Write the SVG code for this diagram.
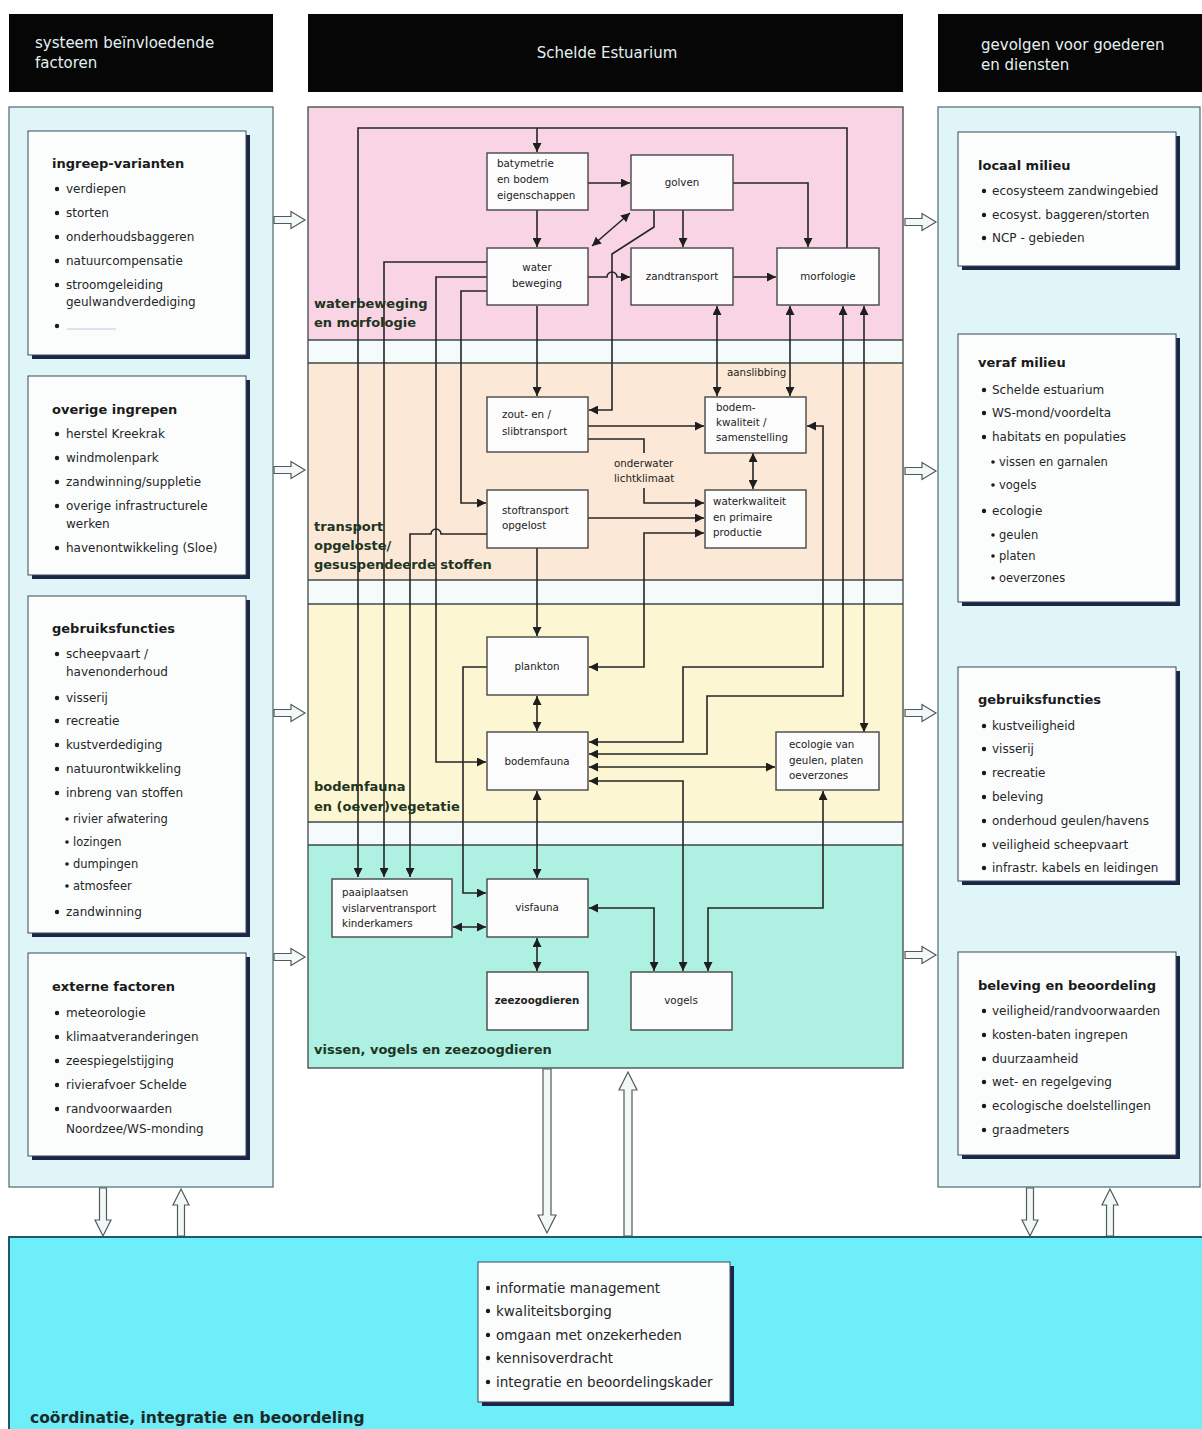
<svg xmlns="http://www.w3.org/2000/svg" width="1202" height="1429" viewBox="0 0 1202 1429">
  <defs>
    <style>
      text { font-family: "DejaVu Sans", "Liberation Sans", sans-serif; }
      .hdr { fill: #060606; }
      .hdrt { fill: #e4f0f0; font-size: 15px; }
      .side { fill: #dff5f7; stroke: #5a7478; stroke-width: 1.3; }
      .shadow { fill: #1b2547; }
      .card { fill: #fbfdfd; stroke: #3a4858; stroke-width: 1; }
      .ttl { font-size: 13px; font-weight: bold; fill: #1a1a1a; }
      .itm { font-size: 12px; fill: #262626; }
      .sub { font-size: 11.5px; fill: #262626; }
      .big { font-size: 13.5px; fill: #262626; }
      .dot { fill: #1a1a1a; }
      .sline { stroke: #3c4848; stroke-width: 1.3; fill: none; }
      .node { fill: #fcfcfc; stroke: #474747; stroke-width: 1.4; }
      .nt { font-size: 10.3px; fill: #222; }
      .ntc { font-size: 10.3px; fill: #222; text-anchor: middle; }
      .sec { font-size: 13px; font-weight: bold; fill: #1d3522; }
      .conn { stroke: #262626; stroke-width: 1.6; fill: none; }
      .hollow { fill: #f2f8f8; stroke: #505a5a; stroke-width: 1.2; }
    </style>
    <marker id="ah" viewBox="0 0 10 10" refX="10" refY="5" markerWidth="9" markerHeight="9" markerUnits="userSpaceOnUse" orient="auto-start-reverse">
      <path d="M0,0 L10,5 L0,10 z" fill="#1e1e1e"/>
    </marker>
    <path id="hollowR" d="M0,-3.5 H17 V-8.5 L31,0 L17,8.5 V3.5 H0 Z"/>
  </defs>

  <rect width="1202" height="1429" fill="#ffffff"/>

  <!-- column headers -->
  <g id="header-left">
    <rect class="hdr" x="9" y="14" width="264" height="78"/>
    <text class="hdrt" x="35" y="48">systeem beïnvloedende</text>
    <text class="hdrt" x="35" y="68">factoren</text>
  </g>
  <g id="header-middle">
    <rect class="hdr" x="308" y="14" width="595" height="78"/>
    <text class="hdrt" x="607" y="58" text-anchor="middle">Schelde Estuarium</text>
  </g>
  <g id="header-right">
    <rect class="hdr" x="938" y="14" width="264" height="78"/>
    <text class="hdrt" x="981" y="50">gevolgen voor goederen</text>
    <text class="hdrt" x="981" y="70">en diensten</text>
  </g>

  <!-- side panels -->
  <rect id="panel-left" class="side" x="9" y="107" width="264" height="1080"/>
  <rect id="panel-right" class="side" x="938" y="107" width="262" height="1080"/>

  <!-- left column cards -->
  <g id="ingreep-varianten">
    <rect class="shadow" x="32" y="135" width="218" height="224"/>
    <rect class="card" x="28" y="131" width="218" height="224"/>
    <text class="ttl" x="52" y="168">ingreep-varianten</text>
    <circle class="dot" cx="57" cy="189" r="2.2"/><text class="itm" x="66" y="193">verdiepen</text>
    <circle class="dot" cx="57" cy="213" r="2.2"/><text class="itm" x="66" y="217">storten</text>
    <circle class="dot" cx="57" cy="237" r="2.2"/><text class="itm" x="66" y="241">onderhoudsbaggeren</text>
    <circle class="dot" cx="57" cy="261" r="2.2"/><text class="itm" x="66" y="265">natuurcompensatie</text>
    <circle class="dot" cx="57" cy="285" r="2.2"/><text class="itm" x="66" y="289">stroomgeleiding</text>
    <text class="itm" x="66" y="306">geulwandverdediging</text>
    <circle class="dot" cx="57" cy="326" r="2.2"/>
    <line x1="67" y1="329" x2="116" y2="329" stroke="#b8cbe0" stroke-width="1.2"/>
  </g>
  <g id="overige-ingrepen">
    <rect class="shadow" x="32" y="380" width="218" height="199"/>
    <rect class="card" x="28" y="376" width="218" height="199"/>
    <text class="ttl" x="52" y="414">overige ingrepen</text>
    <circle class="dot" cx="57" cy="434" r="2.2"/><text class="itm" x="66" y="438">herstel Kreekrak</text>
    <circle class="dot" cx="57" cy="458" r="2.2"/><text class="itm" x="66" y="462">windmolenpark</text>
    <circle class="dot" cx="57" cy="482" r="2.2"/><text class="itm" x="66" y="486">zandwinning/suppletie</text>
    <circle class="dot" cx="57" cy="506" r="2.2"/><text class="itm" x="66" y="510">overige infrastructurele</text>
    <text class="itm" x="66" y="528">werken</text>
    <circle class="dot" cx="57" cy="548" r="2.2"/><text class="itm" x="66" y="552">havenontwikkeling (Sloe)</text>
  </g>
  <g id="gebruiksfuncties-links">
    <rect class="shadow" x="32" y="600" width="218" height="337"/>
    <rect class="card" x="28" y="596" width="218" height="337"/>
    <text class="ttl" x="52" y="633">gebruiksfuncties</text>
    <circle class="dot" cx="57" cy="654" r="2.2"/><text class="itm" x="66" y="658">scheepvaart /</text>
    <text class="itm" x="66" y="676">havenonderhoud</text>
    <circle class="dot" cx="57" cy="698" r="2.2"/><text class="itm" x="66" y="702">visserij</text>
    <circle class="dot" cx="57" cy="721" r="2.2"/><text class="itm" x="66" y="725">recreatie</text>
    <circle class="dot" cx="57" cy="745" r="2.2"/><text class="itm" x="66" y="749">kustverdediging</text>
    <circle class="dot" cx="57" cy="769" r="2.2"/><text class="itm" x="66" y="773">natuurontwikkeling</text>
    <circle class="dot" cx="57" cy="793" r="2.2"/><text class="itm" x="66" y="797">inbreng van stoffen</text>
    <circle class="dot" cx="67" cy="819" r="1.8"/><text class="sub" x="73" y="823">rivier afwatering</text>
    <circle class="dot" cx="67" cy="842" r="1.8"/><text class="sub" x="73" y="846">lozingen</text>
    <circle class="dot" cx="67" cy="864" r="1.8"/><text class="sub" x="73" y="868">dumpingen</text>
    <circle class="dot" cx="67" cy="886" r="1.8"/><text class="sub" x="73" y="890">atmosfeer</text>
    <circle class="dot" cx="57" cy="912" r="2.2"/><text class="itm" x="66" y="916">zandwinning</text>
  </g>
  <g id="externe-factoren">
    <rect class="shadow" x="32" y="957" width="218" height="203"/>
    <rect class="card" x="28" y="953" width="218" height="203"/>
    <text class="ttl" x="52" y="991">externe factoren</text>
    <circle class="dot" cx="57" cy="1013" r="2.2"/><text class="itm" x="66" y="1017">meteorologie</text>
    <circle class="dot" cx="57" cy="1037" r="2.2"/><text class="itm" x="66" y="1041">klimaatveranderingen</text>
    <circle class="dot" cx="57" cy="1061" r="2.2"/><text class="itm" x="66" y="1065">zeespiegelstijging</text>
    <circle class="dot" cx="57" cy="1085" r="2.2"/><text class="itm" x="66" y="1089">rivierafvoer Schelde</text>
    <circle class="dot" cx="57" cy="1109" r="2.2"/><text class="itm" x="66" y="1113">randvoorwaarden</text>
    <text class="itm" x="66" y="1133">Noordzee/WS-monding</text>
  </g>

  <!-- right column cards -->
  <g id="locaal-milieu">
    <rect class="shadow" x="962" y="136" width="218" height="134"/>
    <rect class="card" x="958" y="132" width="218" height="134"/>
    <text class="ttl" x="978" y="170">locaal milieu</text>
    <circle class="dot" cx="984" cy="191" r="2.2"/><text class="itm" x="992" y="195">ecosysteem zandwingebied</text>
    <circle class="dot" cx="984" cy="215" r="2.2"/><text class="itm" x="992" y="219">ecosyst. baggeren/storten</text>
    <circle class="dot" cx="984" cy="238" r="2.2"/><text class="itm" x="992" y="242">NCP - gebieden</text>
  </g>
  <g id="veraf-milieu">
    <rect class="shadow" x="962" y="338" width="218" height="268"/>
    <rect class="card" x="958" y="334" width="218" height="268"/>
    <text class="ttl" x="978" y="367">veraf milieu</text>
    <circle class="dot" cx="984" cy="390" r="2.2"/><text class="itm" x="992" y="394">Schelde estuarium</text>
    <circle class="dot" cx="984" cy="413" r="2.2"/><text class="itm" x="992" y="417">WS-mond/voordelta</text>
    <circle class="dot" cx="984" cy="437" r="2.2"/><text class="itm" x="992" y="441">habitats en populaties</text>
    <circle class="dot" cx="993" cy="462" r="1.8"/><text class="sub" x="999" y="466">vissen en garnalen</text>
    <circle class="dot" cx="993" cy="485" r="1.8"/><text class="sub" x="999" y="489">vogels</text>
    <circle class="dot" cx="984" cy="511" r="2.2"/><text class="itm" x="992" y="515">ecologie</text>
    <circle class="dot" cx="993" cy="535" r="1.8"/><text class="sub" x="999" y="539">geulen</text>
    <circle class="dot" cx="993" cy="556" r="1.8"/><text class="sub" x="999" y="560">platen</text>
    <circle class="dot" cx="993" cy="578" r="1.8"/><text class="sub" x="999" y="582">oeverzones</text>
  </g>
  <g id="gebruiksfuncties-rechts">
    <rect class="shadow" x="962" y="671" width="218" height="214"/>
    <rect class="card" x="958" y="667" width="218" height="214"/>
    <text class="ttl" x="978" y="704">gebruiksfuncties</text>
    <circle class="dot" cx="984" cy="726" r="2.2"/><text class="itm" x="992" y="730">kustveiligheid</text>
    <circle class="dot" cx="984" cy="749" r="2.2"/><text class="itm" x="992" y="753">visserij</text>
    <circle class="dot" cx="984" cy="773" r="2.2"/><text class="itm" x="992" y="777">recreatie</text>
    <circle class="dot" cx="984" cy="797" r="2.2"/><text class="itm" x="992" y="801">beleving</text>
    <circle class="dot" cx="984" cy="821" r="2.2"/><text class="itm" x="992" y="825">onderhoud geulen/havens</text>
    <circle class="dot" cx="984" cy="845" r="2.2"/><text class="itm" x="992" y="849">veiligheid scheepvaart</text>
    <circle class="dot" cx="984" cy="868" r="2.2"/><text class="itm" x="992" y="872">infrastr. kabels en leidingen</text>
  </g>
  <g id="beleving-en-beoordeling">
    <rect class="shadow" x="962" y="956" width="218" height="203"/>
    <rect class="card" x="958" y="952" width="218" height="203"/>
    <text class="ttl" x="978" y="990">beleving en beoordeling</text>
    <circle class="dot" cx="984" cy="1011" r="2.2"/><text class="itm" x="992" y="1015">veiligheid/randvoorwaarden</text>
    <circle class="dot" cx="984" cy="1035" r="2.2"/><text class="itm" x="992" y="1039">kosten-baten ingrepen</text>
    <circle class="dot" cx="984" cy="1059" r="2.2"/><text class="itm" x="992" y="1063">duurzaamheid</text>
    <circle class="dot" cx="984" cy="1082" r="2.2"/><text class="itm" x="992" y="1086">wet- en regelgeving</text>
    <circle class="dot" cx="984" cy="1106" r="2.2"/><text class="itm" x="992" y="1110">ecologische doelstellingen</text>
    <circle class="dot" cx="984" cy="1130" r="2.2"/><text class="itm" x="992" y="1134">graadmeters</text>
  </g>

  <!-- middle panel: four coloured layers separated by narrow bands -->
  <g id="estuarium-panel">
    <rect x="308" y="107" width="595" height="961" fill="#f5fafa"/>
    <rect x="308" y="107" width="595" height="233" fill="#f8d4e4"/>
    <rect x="308" y="363" width="595" height="217" fill="#fbe8d7"/>
    <rect x="308" y="604" width="595" height="218" fill="#fdf6d2"/>
    <rect x="308" y="845" width="595" height="223" fill="#aef0e2"/>
    <rect x="308" y="107" width="595" height="961" fill="none" stroke="#3c4848" stroke-width="1.3"/>
    <line class="sline" x1="308" y1="340" x2="903" y2="340"/>
    <line class="sline" x1="308" y1="363" x2="903" y2="363"/>
    <line class="sline" x1="308" y1="580" x2="903" y2="580"/>
    <line class="sline" x1="308" y1="604" x2="903" y2="604"/>
    <line class="sline" x1="308" y1="822" x2="903" y2="822"/>
    <line class="sline" x1="308" y1="845" x2="903" y2="845"/>
  </g>

  <!-- connectors between the estuary nodes -->
  <g id="connectors">
    <path class="conn" d="M847,248 V128 H358 V877" marker-end="url(#ah)"/>
    <path class="conn" d="M537,128 V152" marker-end="url(#ah)"/>
    <path class="conn" d="M588,183 H630" marker-end="url(#ah)"/>
    <path class="conn" d="M733,183 H808 V247" marker-end="url(#ah)"/>
    <path class="conn" d="M537,210 V247" marker-end="url(#ah)"/>
    <path class="conn" d="M592,246 L630,213" marker-start="url(#ah)" marker-end="url(#ah)"/>
    <path class="conn" d="M654,210 V227 L612,254 V410 H589" marker-end="url(#ah)"/>
    <path class="conn" d="M683,210 V247" marker-end="url(#ah)"/>
    <path class="conn" d="M588,277 H607 A5,5 0 0 1 617,277 H630" marker-end="url(#ah)"/>
    <path class="conn" d="M733,277 H776" marker-end="url(#ah)"/>
    <path class="conn" d="M487,262 H384 V877" marker-end="url(#ah)"/>
    <path class="conn" d="M487,277 H436 V762 H486" marker-end="url(#ah)"/>
    <path class="conn" d="M487,291 H461 V503 H486" marker-end="url(#ah)"/>
    <path class="conn" d="M537,306 V396" marker-end="url(#ah)"/>
    <path class="conn" d="M717,306 V396" marker-start="url(#ah)" marker-end="url(#ah)"/>
    <path class="conn" d="M790,306 V396" marker-start="url(#ah)" marker-end="url(#ah)"/>
    <path class="conn" d="M843,306 V696 H707 V754 H589" marker-start="url(#ah)" marker-end="url(#ah)"/>
    <path class="conn" d="M864,306 V732" marker-start="url(#ah)" marker-end="url(#ah)"/>
    <path class="conn" d="M588,426 H704" marker-end="url(#ah)"/>
    <path class="conn" d="M588,439 H644 V453"/>
    <path class="conn" d="M644,488 V503 H704" marker-end="url(#ah)"/>
    <path class="conn" d="M753,453 V489" marker-start="url(#ah)" marker-end="url(#ah)"/>
    <path class="conn" d="M589,742 H683 V667 H823 V426 H807" marker-start="url(#ah)" marker-end="url(#ah)"/>
    <path class="conn" d="M588,518 H704" marker-end="url(#ah)"/>
    <path class="conn" d="M589,667 H644 V533 H704" marker-start="url(#ah)" marker-end="url(#ah)"/>
    <path class="conn" d="M487,534 H441 A5,5 0 0 0 431,534 H410 V877" marker-end="url(#ah)"/>
    <path class="conn" d="M537,548 V636" marker-end="url(#ah)"/>
    <path class="conn" d="M487,667 H463 V893 H486" marker-end="url(#ah)"/>
    <path class="conn" d="M537,696 V731" marker-start="url(#ah)" marker-end="url(#ah)"/>
    <path class="conn" d="M589,767 H775" marker-start="url(#ah)" marker-end="url(#ah)"/>
    <path class="conn" d="M589,781 H683 V971" marker-start="url(#ah)" marker-end="url(#ah)"/>
    <path class="conn" d="M537,791 V878" marker-start="url(#ah)" marker-end="url(#ah)"/>
    <path class="conn" d="M453,927 H486" marker-start="url(#ah)" marker-end="url(#ah)"/>
    <path class="conn" d="M589,908 H654 V971" marker-start="url(#ah)" marker-end="url(#ah)"/>
    <path class="conn" d="M823,791 V908 H708 V971" marker-start="url(#ah)" marker-end="url(#ah)"/>
    <path class="conn" d="M537,938 V971" marker-start="url(#ah)" marker-end="url(#ah)"/>
    <text class="nt" x="727" y="376">aanslibbing</text>
    <text class="nt" x="614" y="467">onderwater</text>
    <text class="nt" x="614" y="482">lichtklimaat</text>
  </g>

  <!-- layer titles -->
  <g id="layer-titles">
    <text class="sec" x="314" y="308">waterbeweging</text>
    <text class="sec" x="314" y="327">en morfologie</text>
    <text class="sec" x="314" y="531">transport</text>
    <text class="sec" x="314" y="550">opgeloste/</text>
    <text class="sec" x="314" y="569">gesuspendeerde stoffen</text>
    <text class="sec" x="314" y="791">bodemfauna</text>
    <text class="sec" x="314" y="811">en (oever)vegetatie</text>
    <text class="sec" x="314" y="1054">vissen, vogels en zeezoogdieren</text>
  </g>

  <!-- estuary nodes -->
  <g id="batymetrie">
    <rect class="node" x="487" y="153" width="101" height="57"/>
    <text class="nt" x="497" y="167">batymetrie</text>
    <text class="nt" x="497" y="183">en bodem</text>
    <text class="nt" x="497" y="199">eigenschappen</text>
  </g>
  <g id="golven">
    <rect class="node" x="631" y="155" width="102" height="55"/>
    <text class="ntc" x="682" y="186">golven</text>
  </g>
  <g id="waterbeweging">
    <rect class="node" x="487" y="248" width="101" height="57"/>
    <text class="ntc" x="537" y="271">water</text>
    <text class="ntc" x="537" y="287">beweging</text>
  </g>
  <g id="zandtransport">
    <rect class="node" x="631" y="248" width="102" height="57"/>
    <text class="ntc" x="682" y="280">zandtransport</text>
  </g>
  <g id="morfologie">
    <rect class="node" x="777" y="248" width="102" height="57"/>
    <text class="ntc" x="828" y="280">morfologie</text>
  </g>
  <g id="slibtransport">
    <rect class="node" x="487" y="397" width="101" height="55"/>
    <text class="nt" x="502" y="418">zout- en /</text>
    <text class="nt" x="502" y="435">slibtransport</text>
  </g>
  <g id="bodemkwaliteit">
    <rect class="node" x="705" y="397" width="101" height="56"/>
    <text class="nt" x="716" y="411">bodem-</text>
    <text class="nt" x="716" y="426">kwaliteit /</text>
    <text class="nt" x="716" y="441">samenstelling</text>
  </g>
  <g id="stoftransport">
    <rect class="node" x="487" y="490" width="101" height="58"/>
    <text class="nt" x="502" y="514">stoftransport</text>
    <text class="nt" x="502" y="529">opgelost</text>
  </g>
  <g id="waterkwaliteit">
    <rect class="node" x="705" y="490" width="101" height="58"/>
    <text class="nt" x="713" y="505">waterkwaliteit</text>
    <text class="nt" x="713" y="521">en primaire</text>
    <text class="nt" x="713" y="536">productie</text>
  </g>
  <g id="plankton">
    <rect class="node" x="487" y="637" width="101" height="58"/>
    <text class="ntc" x="537" y="670">plankton</text>
  </g>
  <g id="bodemfauna">
    <rect class="node" x="487" y="732" width="101" height="58"/>
    <text class="ntc" x="537" y="765">bodemfauna</text>
  </g>
  <g id="ecologie">
    <rect class="node" x="776" y="732" width="103" height="58"/>
    <text class="nt" x="789" y="748">ecologie van</text>
    <text class="nt" x="789" y="764">geulen, platen</text>
    <text class="nt" x="789" y="779">oeverzones</text>
  </g>
  <g id="paaiplaatsen">
    <rect class="node" x="332" y="879" width="120" height="58"/>
    <text class="nt" x="342" y="896">paaiplaatsen</text>
    <text class="nt" x="342" y="912">vislarventransport</text>
    <text class="nt" x="342" y="927">kinderkamers</text>
  </g>
  <g id="visfauna">
    <rect class="node" x="487" y="879" width="101" height="58"/>
    <text class="ntc" x="537" y="911">visfauna</text>
  </g>
  <g id="zeezoogdieren">
    <rect class="node" x="487" y="972" width="101" height="58"/>
    <text class="ntc" x="537" y="1004" font-weight="bold">zeezoogdieren</text>
  </g>
  <g id="vogels">
    <rect class="node" x="631" y="972" width="101" height="58"/>
    <text class="ntc" x="681" y="1004">vogels</text>
  </g>

  <!-- hollow flow arrows between the columns -->
  <g id="flow-arrows" class="hollow">
    <use href="#hollowR" transform="translate(274,220)"/>
    <use href="#hollowR" transform="translate(274,470)"/>
    <use href="#hollowR" transform="translate(274,713)"/>
    <use href="#hollowR" transform="translate(274,957)"/>
    <use href="#hollowR" transform="translate(905,222)"/>
    <use href="#hollowR" transform="translate(905,471)"/>
    <use href="#hollowR" transform="translate(905,713)"/>
    <use href="#hollowR" transform="translate(905,955)"/>
    <path d="M99.5,1188 V1220 H95 L103,1236 L111,1220 H106.5 V1188 Z"/>
    <path d="M177.5,1236 V1205 H173 L181,1189 L189,1205 H184.5 V1236 Z"/>
    <path d="M543,1069 V1215 H538 L547,1233 L556,1215 H551 V1069 Z"/>
    <path d="M624,1236 V1090 H619 L628,1072 L637,1090 H632 V1236 Z"/>
    <path d="M1026.5,1188 V1220 H1022 L1030,1236 L1038,1220 H1033.5 V1188 Z"/>
    <path d="M1106.5,1236 V1205 H1102 L1110,1189 L1118,1205 H1113.5 V1236 Z"/>
  </g>

  <!-- coordination band at the bottom -->
  <g id="coordinatie">
    <rect x="9" y="1237" width="1193" height="192" fill="#6eeef9"/>
    <path d="M9,1429 V1237 H1202" fill="none" stroke="#1e5a6a" stroke-width="2"/>
    <rect class="shadow" x="482" y="1266" width="252" height="140"/>
    <rect class="card" x="478" y="1262" width="252" height="140"/>
    <circle class="dot" cx="488" cy="1288" r="2.2"/><text class="big" x="496" y="1293">informatie management</text>
    <circle class="dot" cx="488" cy="1311" r="2.2"/><text class="big" x="496" y="1316">kwaliteitsborging</text>
    <circle class="dot" cx="488" cy="1335" r="2.2"/><text class="big" x="496" y="1340">omgaan met onzekerheden</text>
    <circle class="dot" cx="488" cy="1358" r="2.2"/><text class="big" x="496" y="1363">kennisoverdracht</text>
    <circle class="dot" cx="488" cy="1382" r="2.2"/><text class="big" x="496" y="1387">integratie en beoordelingskader</text>
    <text x="30" y="1423" font-size="15.5px" font-weight="bold" fill="#1a2a2a">coördinatie, integratie en beoordeling</text>
  </g>
</svg>
